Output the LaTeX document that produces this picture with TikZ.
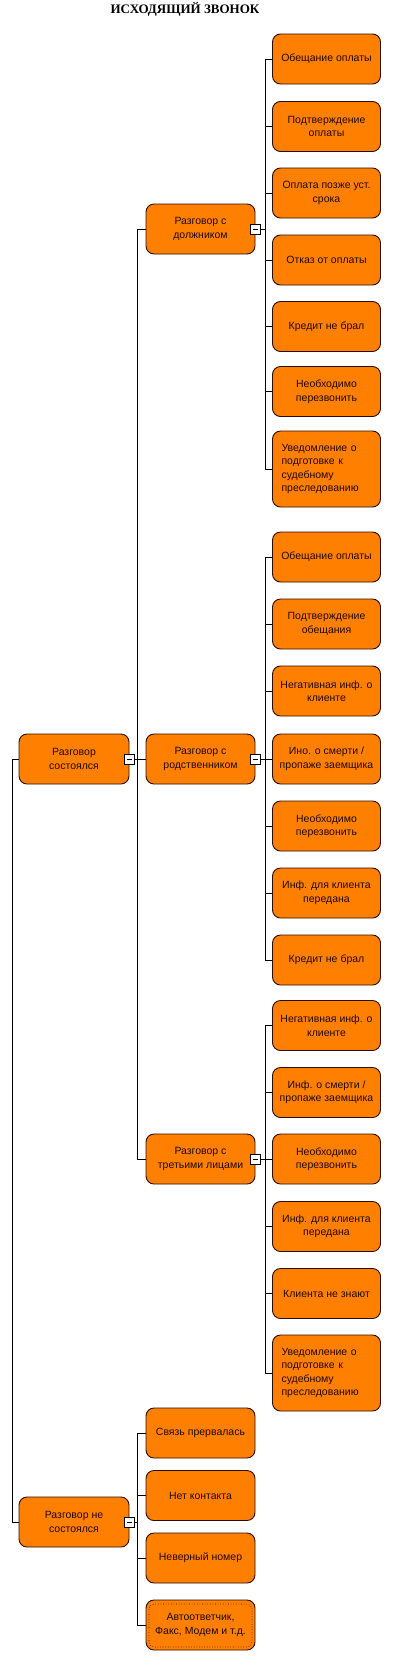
\documentclass[tikz,border=0pt]{standalone}
\usepackage{fontspec}
\setmainfont{Liberation Sans}
\newfontfamily\titlefont{Liberation Serif}
\definecolor{boxfill}{RGB}{255,128,0}
\definecolor{boxline}{RGB}{45,12,0}
\definecolor{txt}{RGB}{35,8,0}
\tikzset{
  mbox/.style={draw=boxline, fill=boxfill, line width=0.9pt, rounded corners=8pt,
    minimum height=50pt, inner sep=1pt, align=center, text=txt,
    font=\fontsize{10.5}{13.5}\selectfont},
  lvlone/.style={mbox, minimum width=110pt},
  lvltwo/.style={mbox, minimum width=109pt},
  lvlthree/.style={mbox, minimum width=108pt},
  tallbox/.style={mbox, minimum height=76pt, text width=90pt, inner xsep=9pt, align=left},
  wire/.style={draw=black, line width=0.9pt},
  minusbox/.style={draw=black, fill=white, minimum size=10pt, inner sep=0pt, line width=0.8pt,
    path picture={\draw[line width=0.9pt] ([xshift=-2.6pt]path picture bounding box.center) -- ([xshift=2.6pt]path picture bounding box.center);}},
}
\begin{document}
\begin{tikzpicture}[x=1pt,y=-1pt]
\useasboundingbox (0,0) rectangle (404,1668);
\node[font=\titlefont\bfseries\fontsize{13}{15}\selectfont] (title) at (185,9) {ИСХОДЯЩИЙ ЗВОНОК};

% level 1
\node[lvlone] (A) at (74,759) {Разговор\\состоялся};
\node[lvlone] (B) at (74,1522) {Разговор не\\состоялся};

% level 2
\node[lvltwo] (A1) at (200.5,229) {Разговор с\\должником};
\node[lvltwo] (A2) at (200.5,759) {Разговор с\\родственником};
\node[lvltwo] (A3) at (200.5,1159) {Разговор с\\третьими лицами};
\node[lvltwo] (B1) at (200.5,1433) {Связь прервалась};
\node[lvltwo] (B2) at (200.5,1495.5) {Нет контакта};
\node[lvltwo] (B3) at (200.5,1558) {Неверный номер};
\node[lvltwo] (B4) at (200.5,1625) {Автоответчик,\\Факс, Модем и т.д.};
\draw[boxline, line width=0.6pt, dotted, rounded corners=5pt] (149,1604) rectangle (252,1647);

% level 3, group 1
\node[lvlthree] (g11) at (326.5,59) {Обещание оплаты};
\node[lvlthree] (g12) at (326.5,126.5) {Подтверждение\\оплаты};
\node[lvlthree] (g13) at (326.5,193) {Оплата позже уст.\\срока};
\node[lvlthree] (g14) at (326.5,260) {Отказ от оплаты};
\node[lvlthree] (g15) at (326.5,326.5) {Кредит не брал};
\node[lvlthree] (g16) at (326.5,391.5) {Необходимо\\перезвонить};
\node[tallbox] (g17) at (326.5,469) {Уведомление о\\подготовке к\\судебному\\преследованию};

% level 3, group 2
\node[lvlthree] (g21) at (326.5,557) {Обещание оплаты};
\node[lvlthree] (g22) at (326.5,624) {Подтверждение\\обещания};
\node[lvlthree] (g23) at (326.5,691) {Негативная инф. о\\клиенте};
\node[lvlthree] (g24) at (326.5,759) {Ино. о смерти /\\пропаже заемщика};
\node[lvlthree] (g25) at (326.5,826) {Необходимо\\перезвонить};
\node[lvlthree] (g26) at (326.5,893) {Инф. для клиента\\передана};
\node[lvlthree] (g27) at (326.5,960) {Кредит не брал};

% level 3, group 3
\node[lvlthree] (g31) at (326.5,1025.5) {Негативная инф. о\\клиенте};
\node[lvlthree] (g32) at (326.5,1092.5) {Инф. о смерти /\\пропаже заемщика};
\node[lvlthree] (g33) at (326.5,1159) {Необходимо\\перезвонить};
\node[lvlthree] (g34) at (326.5,1226.5) {Инф. для клиента\\передана};
\node[lvlthree] (g35) at (326.5,1293.5) {Клиента не знают};
\node[tallbox] (g36) at (326.5,1373) {Уведомление о\\подготовке к\\судебному\\преследованию};

% connectors
\coordinate (root) at (12,759);
\draw[wire] (root) |- (A.west);
\draw[wire] (root) |- (B.west);

\draw[wire] (A.east) -- ++(8,0) coordinate (busA);
\foreach \c in {A1,A2,A3} \draw[wire] (busA) |- (\c.west);
\draw[wire] (B.east) -- ++(8,0) coordinate (busB);
\foreach \c in {B1,B2,B3,B4} \draw[wire] (busB) |- (\c.west);

\draw[wire] (A1.east) -- ++(9.5,0) coordinate (busA1);
\foreach \c in {g11,g12,g13,g14,g15,g16,g17} \draw[wire] (busA1) |- (\c.west);
\draw[wire] (A2.east) -- ++(9.5,0) coordinate (busA2);
\foreach \c in {g21,g22,g23,g24,g25,g26,g27} \draw[wire] (busA2) |- (\c.west);
\draw[wire] (A3.east) -- ++(9.5,0) coordinate (busA3);
\foreach \c in {g31,g32,g33,g34,g35,g36} \draw[wire] (busA3) |- (\c.west);

% collapse markers
\node[minusbox] (mA) at (A.east) {};
\node[minusbox] (mB) at (B.east) {};
\node[minusbox] (mA1) at (A1.east) {};
\node[minusbox] (mA2) at (A2.east) {};
\node[minusbox] (mA3) at (A3.east) {};
\end{tikzpicture}
\end{document}
